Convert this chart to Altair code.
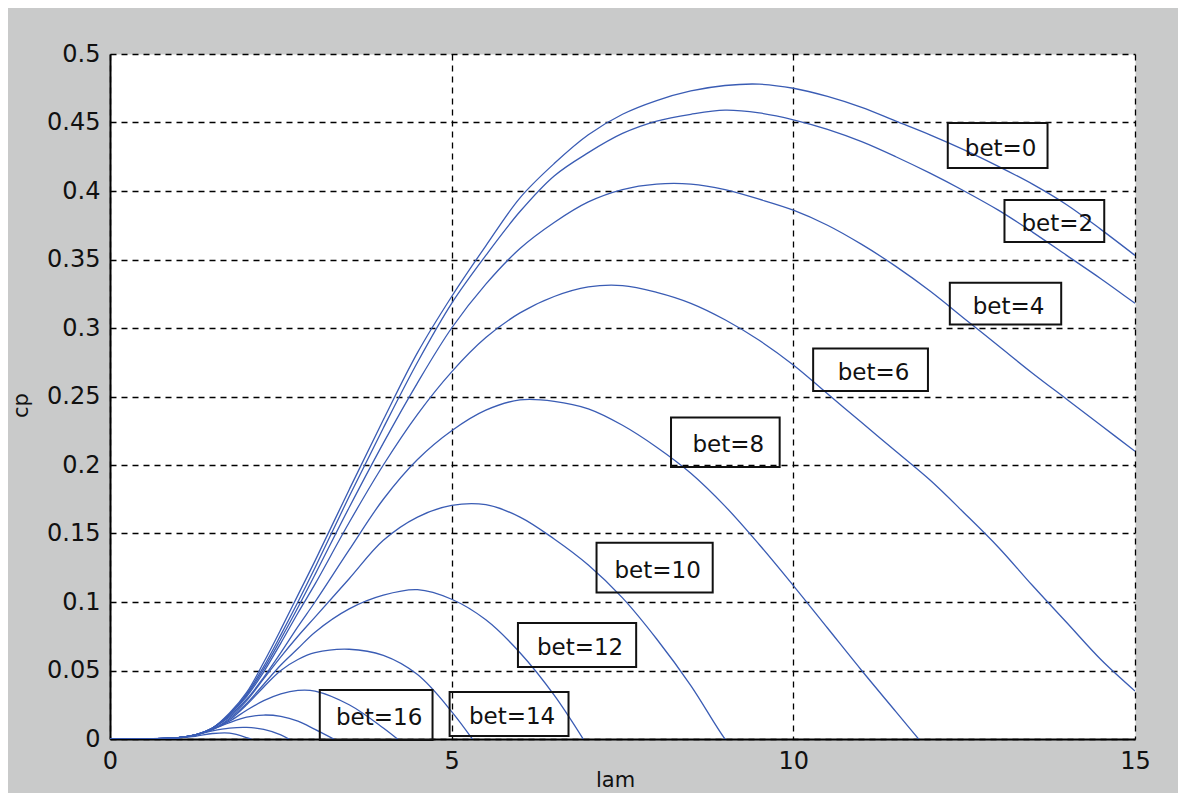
import altair as alt
import pandas as pd

# ---- curve data (lam, cp) ----
lam_b0 = [0, 0.5, 1, 1.25, 1.5, 1.75, 2, 2.25, 2.5, 2.75, 3, 3.5, 4, 4.5, 5, 5.5, 6, 6.5, 7, 7.5, 8, 8.5, 9, 9.5, 10, 10.5, 11, 11.5, 12, 12.5, 13, 13.5, 14, 14.5, 15]
cp_b0 = [0, 0, 0.001, 0.003, 0.008, 0.019, 0.034, 0.056, 0.080, 0.105, 0.130, 0.182, 0.233, 0.282, 0.323, 0.360, 0.395, 0.420, 0.441, 0.456, 0.466, 0.473, 0.477, 0.478, 0.475, 0.469, 0.461, 0.451, 0.441, 0.430, 0.418, 0.405, 0.390, 0.372, 0.353]

lam_b2 = [0, 0.5, 1, 1.25, 1.5, 1.75, 2, 2.25, 2.5, 2.75, 3, 3.5, 4, 4.5, 5, 5.5, 6, 6.5, 7, 7.5, 8, 8.5, 9, 9.5, 10, 10.5, 11, 11.5, 12, 12.5, 13, 13.5, 14, 14.5, 15]
cp_b2 = [0, 0, 0.001, 0.003, 0.008, 0.018, 0.033, 0.053, 0.076, 0.100, 0.125, 0.177, 0.227, 0.275, 0.318, 0.353, 0.385, 0.411, 0.428, 0.442, 0.451, 0.456, 0.459, 0.457, 0.452, 0.445, 0.436, 0.425, 0.413, 0.400, 0.386, 0.370, 0.353, 0.336, 0.318]

lam_b4 = [0, 0.5, 1, 1.25, 1.5, 1.75, 2, 2.25, 2.5, 2.75, 3, 3.5, 4, 4.5, 5, 5.5, 6, 6.5, 7, 7.5, 8, 8.5, 9, 9.5, 10, 10.5, 11, 11.5, 12, 12.5, 13, 13.5, 14, 14.5, 15]
cp_b4 = [0, 0, 0.001, 0.003, 0.008, 0.018, 0.032, 0.051, 0.073, 0.096, 0.120, 0.169, 0.216, 0.260, 0.300, 0.332, 0.358, 0.377, 0.392, 0.401, 0.405, 0.405, 0.401, 0.394, 0.386, 0.375, 0.361, 0.345, 0.327, 0.307, 0.287, 0.267, 0.248, 0.229, 0.210]

lam_b6 = [0, 0.5, 1, 1.25, 1.5, 1.75, 2, 2.25, 2.5, 2.75, 3, 3.5, 4, 4.5, 5, 5.5, 6, 6.5, 7, 7.5, 8, 8.5, 9, 9.5, 10, 10.5, 11, 11.5, 12, 12.5, 13, 13.5, 14, 14.5, 15]
cp_b6 = [0, 0, 0.001, 0.003, 0.008, 0.018, 0.031, 0.049, 0.070, 0.092, 0.113, 0.158, 0.200, 0.237, 0.268, 0.293, 0.311, 0.323, 0.330, 0.331, 0.326, 0.318, 0.306, 0.291, 0.273, 0.252, 0.231, 0.210, 0.189, 0.165, 0.140, 0.112, 0.085, 0.058, 0.035]

lam_b8 = [0, 0.5, 1, 1.25, 1.5, 1.75, 2, 2.25, 2.5, 2.75, 3, 3.5, 4, 4.5, 5, 5.5, 6, 6.5, 7, 7.5, 8, 8.5, 9, 9.5, 10, 10.5, 11, 11.5, 12]
cp_b8 = [0, 0, 0.001, 0.003, 0.008, 0.017, 0.029, 0.045, 0.063, 0.082, 0.100, 0.138, 0.175, 0.204, 0.225, 0.240, 0.2475, 0.2465, 0.241, 0.229, 0.213, 0.194, 0.170, 0.142, 0.112, 0.081, 0.050, 0.020, -0.010]

lam_b10 = [0, 0.5, 1, 1.25, 1.5, 1.75, 2, 2.25, 2.5, 2.75, 3, 3.5, 4, 4.5, 5, 5.5, 6, 6.5, 7, 7.5, 8, 8.5, 9, 9.25]
cp_b10 = [0, 0, 0.001, 0.003, 0.008, 0.016, 0.028, 0.044, 0.060, 0.075, 0.089, 0.117, 0.145, 0.162, 0.1705, 0.171, 0.162, 0.146, 0.127, 0.103, 0.073, 0.039, 0.0, -0.015]

lam_b12 = [0, 0.5, 1, 1.25, 1.5, 1.75, 2, 2.25, 2.5, 2.75, 3, 3.5, 4, 4.5, 5, 5.5, 6, 6.5, 7]
cp_b12 = [0, 0, 0.001, 0.003, 0.007, 0.015, 0.026, 0.040, 0.054, 0.066, 0.078, 0.095, 0.105, 0.109, 0.102, 0.087, 0.063, 0.032, -0.006]

lam_b14 = [0, 0.5, 1, 1.25, 1.5, 1.75, 2, 2.25, 2.5, 2.75, 3, 3.5, 4, 4.5, 5, 5.5]
cp_b14 = [0, 0, 0.001, 0.003, 0.007, 0.014, 0.025, 0.038, 0.050, 0.058, 0.063, 0.0655, 0.061, 0.047, 0.020, -0.014]

lam_b16 = [0, 0.5, 1, 1.25, 1.5, 1.75, 2, 2.25, 2.5, 2.75, 3, 3.5, 4, 4.5]
cp_b16 = [0, 0, 0.001, 0.003, 0.007, 0.013, 0.021, 0.028, 0.033, 0.0355, 0.035, 0.025, 0.008, -0.012]

lam_b18 = [0, 0.5, 1, 1.25, 1.5, 1.75, 2, 2.25, 2.5, 2.75, 3, 3.5]
cp_b18 = [0, 0, 0.001, 0.003, 0.007, 0.012, 0.016, 0.0175, 0.0165, 0.013, 0.007, -0.006]

lam_b20 = [0, 0.5, 1, 1.25, 1.5, 1.75, 2, 2.25, 2.5, 2.75]
cp_b20 = [0, 0, 0.001, 0.003, 0.006, 0.008, 0.0085, 0.007, 0.003, -0.004]

lam_b22 = [0, 0.5, 1, 1.25, 1.5, 1.75, 2, 2.25]
cp_b22 = [0, 0, 0.001, 0.002, 0.004, 0.0043, 0.001, -0.004]

# ---- label boxes (in data units) ----
label_text = ["bet=0", "bet=2", "bet=4", "bet=6", "bet=8", "bet=10", "bet=12", "bet=14", "bet=16"]
box_lam_left = [12.26, 13.09, 12.29, 10.29, 8.21, 7.12, 5.97, 4.97, 3.07]
box_lam_right = [13.72, 14.55, 13.92, 11.97, 9.80, 8.82, 7.70, 6.71, 4.72]
box_cp_bottom = [0.4168, 0.3628, 0.3026, 0.2540, 0.1985, 0.1069, 0.0526, 0.0022, -0.0007]
box_cp_top = [0.4496, 0.3934, 0.3330, 0.2850, 0.2346, 0.1432, 0.0847, 0.0343, 0.0358]

# ---- tick values ----
x_ticks = [0, 5, 10, 15]
y_ticks = [0, 0.05, 0.1, 0.15, 0.2, 0.25, 0.3, 0.35, 0.4, 0.45, 0.5]

curves = {
    0: (lam_b0, cp_b0), 2: (lam_b2, cp_b2), 4: (lam_b4, cp_b4), 6: (lam_b6, cp_b6),
    8: (lam_b8, cp_b8), 10: (lam_b10, cp_b10), 12: (lam_b12, cp_b12), 14: (lam_b14, cp_b14),
    16: (lam_b16, cp_b16), 18: (lam_b18, cp_b18), 20: (lam_b20, cp_b20), 22: (lam_b22, cp_b22),
}
rows = []
for b, (ls, cs) in curves.items():
    for l, c in zip(ls, cs):
        rows.append({"bet": b, "lam": l, "cp": c})
df = pd.DataFrame(rows)

lab = pd.DataFrame({
    "text": label_text,
    "lam": box_lam_left, "lam2": box_lam_right,
    "cp": box_cp_bottom, "cp2": box_cp_top,
})
lab["lamc"] = (lab["lam"] + lab["lam2"]) / 2
lab["cpc"] = (lab["cp"] + lab["cp2"]) / 2

xscale = alt.Scale(domain=[0, 15], nice=False, zero=False)
yscale = alt.Scale(domain=[0, 0.5], nice=False, zero=False)

xaxis = alt.Axis(values=x_ticks, title="lam", labelFlush=False, titleX=505, titleY=30,
                 titleBaseline="top", titleAlign="center")
yaxis = alt.Axis(values=y_ticks, format="~g", title="cp", titleX=-89, titleY=351,
                 titleAngle=270, titleAlign="center", titleBaseline="middle")

lines = alt.Chart(df).mark_line(clip=True, color="#3a5cb4", strokeWidth=1.3, interpolate="catmull-rom").encode(
    x=alt.X("lam:Q", scale=xscale, axis=xaxis),
    y=alt.Y("cp:Q", scale=yscale, axis=yaxis),
    detail="bet:N",
    order="lam:Q",
)

boxes = alt.Chart(lab).mark_rect(fillOpacity=0, stroke="#111111", strokeWidth=2).encode(
    x=alt.X("lam:Q", scale=xscale, axis=xaxis),
    x2="lam2:Q",
    y=alt.Y("cp:Q", scale=yscale, axis=yaxis),
    y2="cp2:Q",
)

texts = alt.Chart(lab).mark_text(font="DejaVu Sans", fontSize=23, color="#111111", dx=3, dy=3,
                                 align="center", baseline="middle").encode(
    x=alt.X("lamc:Q", scale=xscale, axis=xaxis),
    y=alt.Y("cpc:Q", scale=yscale, axis=yaxis),
    text="text:N",
)

chart = alt.layer(lines, boxes, texts).properties(
    width=1025, height=685,
    autosize=alt.AutoSizeParams(type="none"),
    padding={"left": 102, "top": 46, "right": 43, "bottom": 54},
    background="#c9caca",
).configure_view(
    stroke="transparent", fill="white"
).configure_axis(
    labelFont="DejaVu Sans", labelFontSize=24, labelColor="#111111", labelPadding=10,
    titleFont="DejaVu Sans", titleFontSize=21, titleFontWeight="normal", titleColor="#111111",
    domainColor="#000000", domainWidth=2, ticks=False,
    grid=True, gridColor="#000000", gridDash=[6, 5], gridWidth=1.3, gridOpacity=1,
)

chart.save("out.html", embed_options={"renderer": "svg", "actions": False})
